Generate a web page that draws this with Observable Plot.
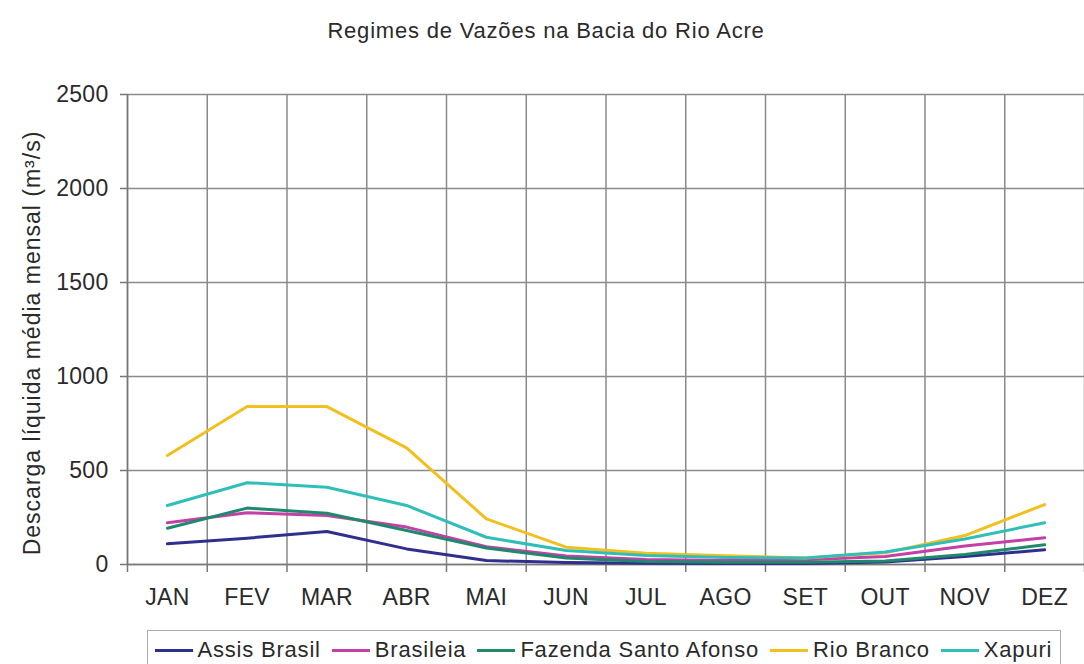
<!DOCTYPE html>
<html>
<head>
<meta charset="utf-8">
<script src="https://cdn.jsdelivr.net/npm/d3@7"></script>
<script src="https://cdn.jsdelivr.net/npm/@observablehq/plot@0.6"></script>
<style>
  html, body { margin: 0; padding: 0; background: #fff; }
  body { width: 1084px; height: 664px; position: relative; overflow: hidden; font-family: "Liberation Sans", Arial, sans-serif; color: #2a2a2a; }
  #title { position: absolute; top: 18px; left: 0; width: 1092px; text-align: center; font-size: 22px; letter-spacing: 0.8px; color: #2a2a2a; }
  #chart { position: absolute; top: 60px; left: 0; }
  #legend { position: absolute; top: 630px; left: 147px; width: 914px; height: 40px; border: 1.5px solid #aaa; box-sizing: border-box; display: flex; align-items: center; padding-left: 6.5px; font-size: 22px; letter-spacing: 0.8px; color: #2a2a2a; }
  .item { display: flex; align-items: center; margin-right: 11px; white-space: nowrap; }
  .sw { width: 38px; height: 3px; margin-right: 5px; }
</style>
</head>
<body>
<div id="title">Regimes de Vazões na Bacia do Rio Acre</div>
<div id="chart"></div>
<div id="legend"></div>
<script>
const months = ["JAN","FEV","MAR","ABR","MAI","JUN","JUL","AGO","SET","OUT","NOV","DEZ"];
const stations = ["Assis Brasil","Brasileia","Fazenda Santo Afonso","Rio Branco","Xapuri"];
const colors = ["#2f2f8f","#c43fa6","#1f8a6b","#f2c01e","#2fbfb8"];
const assisBrasil = [110, 140, 176, 83, 21, 10, 7, 5, 5, 13, 43, 78];
const brasileia   = [222, 275, 261, 199, 95, 45, 27, 21, 25, 43, 98, 142];
const fazenda     = [193, 300, 273, 181, 88, 35, 16, 12, 12, 18, 53, 105];
const rioBranco   = [580, 840, 840, 620, 243, 92, 60, 46, 35, 62, 154, 319];
const xapuri      = [314, 435, 411, 314, 145, 74, 48, 37, 35, 66, 136, 222];
const yTicks = [0, 500, 1000, 1500, 2000, 2500];
const yLabel = "Descarga líquida média mensal (m³/s)";

const seriesValues = [assisBrasil, brasileia, fazenda, rioBranco, xapuri];
const data = [];
stations.forEach((s, si) => {
  seriesValues[si].forEach((v, mi) => data.push({station: s, month: months[mi], idx: mi + 0.5, value: v}));
});

const bounds = d3.range(0, months.length + 1);
const centers = months.map((m, i) => i + 0.5);

const chart = Plot.plot({
  width: 1084,
  height: 570,
  marginLeft: 127,
  marginRight: 0,
  marginTop: 34,
  marginBottom: 66,
  style: {fontFamily: "'Liberation Sans', Arial, sans-serif", color: "#2a2a2a", background: "transparent", letterSpacing: "0.3px"},
  x: {type: "linear", domain: [0, months.length], label: null},
  y: {domain: [0, 2500], label: null},
  color: {domain: stations, range: colors},
  marks: [
    Plot.gridY(yTicks, {stroke: "#8a8a8a", strokeOpacity: 1, strokeWidth: 1.5}),
    Plot.gridX(bounds, {stroke: "#8a8a8a", strokeOpacity: 1, strokeWidth: 1.5}),
    Plot.axisY(yTicks, {tickSize: 7, tickPadding: 12, fontSize: 23, stroke: "#777", strokeWidth: 1.5, label: null, tickFormat: d => String(d)}),
    Plot.axisX(bounds, {tickSize: 8, stroke: "#777", strokeWidth: 1.5, tickFormat: () => "", label: null}),
    Plot.axisX(centers, {tickSize: 0, tickPadding: 24, fontSize: 23, tickFormat: d => months[Math.floor(d)], label: null}),
    Plot.ruleY([0], {stroke: "#777", strokeWidth: 1.5}),
    Plot.ruleX([0], {stroke: "#777", strokeWidth: 1.5}),
    Plot.line(data, {x: "idx", y: "value", z: "station", stroke: "station", strokeWidth: 3, curve: "linear"}),
    Plot.text([yLabel], {frameAnchor: "left", textAnchor: "middle", rotate: -90, dx: -95, dy: 13.5, fontSize: 23, fill: "#2a2a2a"})
  ]
});
d3.select(chart).selectAll("text").filter(function() { return this.textContent === yLabel; }).style("letter-spacing", "1px");
document.getElementById("chart").appendChild(chart);

const legend = document.getElementById("legend");
stations.forEach((s, i) => {
  const item = document.createElement("div");
  item.className = "item";
  const sw = document.createElement("div");
  sw.className = "sw";
  sw.style.background = colors[i];
  const t = document.createElement("span");
  t.textContent = s;
  item.appendChild(sw);
  item.appendChild(t);
  legend.appendChild(item);
});
</script>
</body>
</html>
